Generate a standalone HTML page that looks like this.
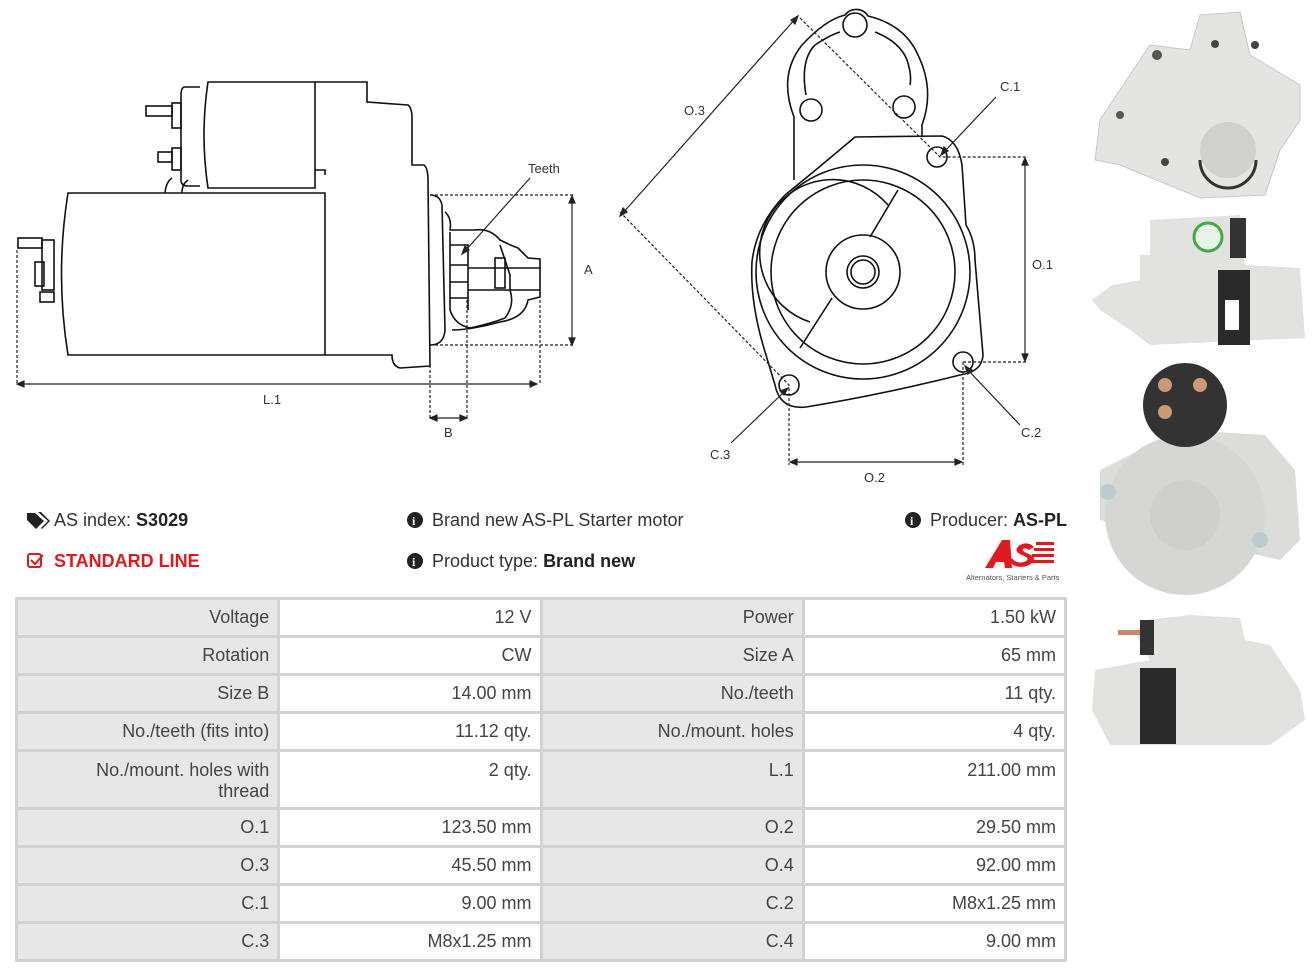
<!DOCTYPE html>
<html><head><meta charset="utf-8"><style>
body{margin:0;background:#fff;width:1316px;height:973px;overflow:hidden;position:relative;font-family:"Liberation Sans",sans-serif;}
svg{position:absolute;left:0;top:0}
.t{position:absolute;font-size:18px;color:#333;white-space:nowrap}
table{position:absolute;left:15px;top:597px;border-collapse:collapse;width:1052px;font-size:18px;color:#444}
td{border:3px solid #d2d2d2;text-align:right;padding:0 8px;height:38px;width:247px;vertical-align:middle;box-sizing:border-box}
td.l{background:#e7e7e7}
tr.tall td{height:58px;vertical-align:top;padding-top:8px;line-height:21px}
</style></head><body>
<svg width="1316" height="973" viewBox="0 0 1316 973">
<g fill="none" stroke="#111" stroke-width="1.6">
<path d="M68,193 L325,193 L325,355 L68,355 Q55,274 68,193Z"/>
<path d="M208,82 L315,82 L315,188 L208,188 Q200,135 208,82Z"/>
<path d="M200,87 L185,87 Q181,87 181,95 L181,180 Q181,186 188,186 L200,186"/>
<rect x="172" y="103" width="9" height="25"/><rect x="146" y="106" width="26" height="10"/>
<rect x="172" y="148" width="9" height="22"/><rect x="158" y="152" width="14" height="10"/>
<path d="M165,193 Q166,182 172,178 M182,193 Q182,184 188,180"/>
<path d="M315,82 L367,82 L367,102 L408,105 Q412,108 412,118 L412,165 L424,165 Q428,168 428,180 L430,366 L400,368 Q392,366 392,355 L325,355 M325,175 L325,170 L315,170"/>
<path d="M430,195 Q440,195 442,205 L445,330 Q444,345 430,345"/>
<path d="M445,212 Q452,218 450,230 L475,230 Q490,228 500,240 Q510,245 518,248 L528,258 L540,259 L540,297 L528,300 Q525,318 500,322 Q470,330 452,330"/>
<path d="M450,232 L450,310 Q455,325 470,328 Q490,324 505,318 Q515,305 510,290 L510,275 Q505,260 500,245"/>
<path d="M450,245 L468,245 L468,310 M450,265 L468,265 M450,282 L468,282 M450,298 L468,298 M468,268 L540,268 M468,290 L540,290"/>
<rect x="495" y="258" width="10" height="30"/>
<rect x="42" y="240" width="12" height="50"/><rect x="35" y="262" width="9" height="24"/>
<rect x="18" y="238" width="24" height="10"/><rect x="40" y="292" width="14" height="10"/>
<path d="M794,180 L794,117 Q778,75 802,45 Q825,20 845,15 A14,14 0 0 1 868,16 Q905,25 918,55 Q935,90 922,125 L922,137"/>
<path d="M806,95 Q800,60 815,45 Q830,35 840,32 M875,32 Q900,42 907,60 Q912,75 910,85"/>
<circle cx="855" cy="25" r="12"/><circle cx="811" cy="110" r="11"/><circle cx="904" cy="107" r="11"/>
<path d="M855,137 L942,136 Q958,140 962,165 L966,225 Q975,240 975,260 L983,355 Q982,372 960,375 Q880,395 806,407 Q780,410 775,385 L763,345 Q750,300 752,262 Q756,225 785,195 Q810,175 855,137Z"/>
<circle cx="863" cy="272" r="107"/><circle cx="863" cy="272" r="92"/>
<path d="M888,205 A73,73 0 1 0 810,322"/>
<path d="M898,190 L870,237 M832,298 L800,348"/>
<circle cx="863" cy="272" r="37"/><circle cx="863" cy="272" r="16"/><circle cx="863" cy="272" r="12"/>
<circle cx="937" cy="157" r="10"/><circle cx="963" cy="362" r="10"/><circle cx="789" cy="385" r="10"/>
</g>
<g fill="none" stroke="#222" stroke-width="1.2" stroke-dasharray="3,2">
<path d="M17,250 L17,384 M430,195 L575,195 M430,345 L575,345 M430,345 L430,420 M467,300 L467,420 M540,300 L540,384"/>
<path d="M800,18 L940,157 L1028,157 M620,212 L789,385 L789,465 M963,362 L1028,362 M963,362 L963,465"/>
</g>
<g stroke="#222" stroke-width="1.2" fill="#222">
<line x1="20" y1="384" x2="535" y2="384"/><path d="M17,384 l7,-3 v6z M537,384 l-7,-3 v6z"/>
<line x1="572" y1="199" x2="572" y2="342"/><path d="M572,196 l-3,7 h6z M572,345 l-3,-7 h6z"/>
<line x1="432" y1="418" x2="465" y2="418"/><path d="M430,418 l7,-3 v6z M467,418 l-7,-3 v6z"/>
<line x1="530" y1="178" x2="466" y2="250"/><path d="M462,254 l3,-8 l4,4z"/>
<line x1="796" y1="18" x2="622" y2="214"/><path d="M798,16 l-3,8 l-4,-4z M620,216 l3,-8 l4,4z"/>
<line x1="1025" y1="160" x2="1025" y2="359"/><path d="M1025,158 l-3,7 h6z M1025,361 l-3,-7 h6z"/>
<line x1="792" y1="462" x2="960" y2="462"/><path d="M790,462 l7,-3 v6z M962,462 l-7,-3 v6z"/>
<line x1="996" y1="97" x2="944" y2="152"/><path d="M941,155 l3,-8 l4,4z"/>
<line x1="1020" y1="425" x2="968" y2="370"/><path d="M965,366 l3,8 l4,-4z"/>
<line x1="731" y1="443" x2="784" y2="392"/><path d="M788,388 l-8,3 l4,4z"/>
</g>
<g font-family="Liberation Sans,sans-serif" font-size="13" fill="#333">
<text x="528" y="173">Teeth</text><text x="584" y="274">A</text><text x="263" y="404">L.1</text><text x="444" y="437">B</text>
<text x="684" y="115">O.3</text><text x="1000" y="91">C.1</text><text x="1032" y="269">O.1</text><text x="1021" y="437">C.2</text><text x="710" y="459">C.3</text><text x="864" y="482">O.2</text>
</g>
<g>
<path d="M1100,120 L1150,45 L1190,50 L1200,15 L1240,12 L1250,55 L1300,85 L1300,120 L1280,150 L1265,195 L1200,198 L1120,165 L1095,160Z" fill="#e4e4e2" stroke="#c8c8c8"/>
<circle cx="1228" cy="150" r="28" fill="#d0d0ce"/><path d="M1200,160 A28,28 0 0 0 1256,160" stroke="#333" stroke-width="3" fill="none"/>
<circle cx="1157" cy="55" r="5" fill="#555"/><circle cx="1120" cy="115" r="4" fill="#555"/><circle cx="1165" cy="162" r="4" fill="#444"/><circle cx="1215" cy="44" r="4" fill="#444"/><circle cx="1255" cy="45" r="4" fill="#444"/>
<path d="M1092,300 L1112,285 L1140,280 L1140,255 L1150,255 L1150,220 L1240,215 L1245,265 L1300,268 L1305,338 L1150,345 L1130,330 L1100,310Z" fill="#e2e2e0"/>
<rect x="1218" y="270" width="32" height="75" fill="#2a2a2a"/><rect x="1230" y="218" width="16" height="40" fill="#333"/>
<circle cx="1208" cy="237" r="14" fill="#e8f4e8" stroke="#4a4" stroke-width="3"/>
<rect x="1225" y="300" width="14" height="30" fill="#fff"/>
<path d="M1100,470 L1180,430 L1265,435 L1295,470 L1300,540 L1280,560 L1100,520Z" fill="#dcdcda"/>
<circle cx="1185" cy="515" r="80" fill="#d6d6d4"/><circle cx="1185" cy="515" r="35" fill="#cfcfcd"/>
<circle cx="1185" cy="405" r="42" fill="#333"/>
<circle cx="1165" cy="385" r="7" fill="#c97"/><circle cx="1200" cy="385" r="7" fill="#c97"/><circle cx="1165" cy="412" r="7" fill="#c97"/>
<circle cx="1108" cy="492" r="8" fill="#bcc"/><circle cx="1260" cy="540" r="8" fill="#bcc"/>
<path d="M1135,633 L1145,620 L1190,615 L1240,618 L1245,640 L1270,645 L1300,690 L1305,720 L1270,745 L1110,745 L1092,710 L1095,670 L1150,660Z" fill="#e2e2e0"/>
<rect x="1140" y="668" width="36" height="76" fill="#2a2a2a"/><rect x="1140" y="620" width="14" height="35" fill="#333"/><rect x="1118" y="630" width="22" height="5" fill="#c86"/>
</g>
<g fill="#222">
<path d="M27,513 l8,0 l9,8 l-8,8 l-9,-9z"/><path d="M38,512 l3,0 l9,9 l-8,8 l-1,-1 l7,-7z"/>
<circle cx="415" cy="520" r="8"/><circle cx="415" cy="561" r="8"/><circle cx="913" cy="520" r="8"/>
</g>
<g fill="#fff" font-family="Liberation Serif,serif" font-weight="bold" font-size="12"><text x="412" y="525">i</text><text x="412" y="566">i</text><text x="910" y="525">i</text></g>
<g fill="none" stroke="#e0191f" stroke-width="2"><rect x="28" y="554" width="13" height="13" rx="2"/><path d="M31,560 l4,4 l8,-9"/></g>
<g fill="#e0191f"><path d="M985,568 L1002,540 L1010,540 L1012,568 L1005,568 L1004,562 L996,562 L993,568Z M1012,558 q4,6 12,4 q8,-3 -2,-7 q-10,-4 -2,-10 q8,-4 14,2 l-5,3 q-4,-3 -6,-1 q-2,2 6,5 q10,4 0,11 q-12,5 -19,-3z"/>
<rect x="1036" y="542" width="18" height="3"/><rect x="1034" y="548" width="20" height="3"/><rect x="1032" y="554" width="22" height="3"/><rect x="1030" y="560" width="24" height="3"/></g>
<text x="966" y="580" font-family="Liberation Sans,sans-serif" font-size="7.5" fill="#555">Alternators, Starters &amp; Parts</text>
</svg>
<div class="t" style="left:54px;top:510px">AS index: <b style="color:#222">S3029</b></div>
<div class="t" style="left:54px;top:551px;color:#e0191f;font-weight:bold">STANDARD LINE</div>
<div class="t" style="left:432px;top:510px">Brand new AS-PL Starter motor</div>
<div class="t" style="left:432px;top:551px">Product type: <b style="color:#222">Brand new</b></div>
<div class="t" style="left:930px;top:510px">Producer: <b style="color:#222">AS-PL</b></div>
<table>
<tr><td class="l">Voltage</td><td>12 V</td><td class="l">Power</td><td>1.50 kW</td></tr>
<tr><td class="l">Rotation</td><td>CW</td><td class="l">Size A</td><td>65 mm</td></tr>
<tr><td class="l">Size B</td><td>14.00 mm</td><td class="l">No./teeth</td><td>11 qty.</td></tr>
<tr><td class="l">No./teeth (fits into)</td><td>11.12 qty.</td><td class="l">No./mount. holes</td><td>4 qty.</td></tr>
<tr class="tall"><td class="l">No./mount. holes with<br>thread</td><td>2 qty.</td><td class="l">L.1</td><td>211.00 mm</td></tr>
<tr><td class="l">O.1</td><td>123.50 mm</td><td class="l">O.2</td><td>29.50 mm</td></tr>
<tr><td class="l">O.3</td><td>45.50 mm</td><td class="l">O.4</td><td>92.00 mm</td></tr>
<tr><td class="l">C.1</td><td>9.00 mm</td><td class="l">C.2</td><td>M8x1.25 mm</td></tr>
<tr><td class="l">C.3</td><td>M8x1.25 mm</td><td class="l">C.4</td><td>9.00 mm</td></tr>
</table>
</body></html>
